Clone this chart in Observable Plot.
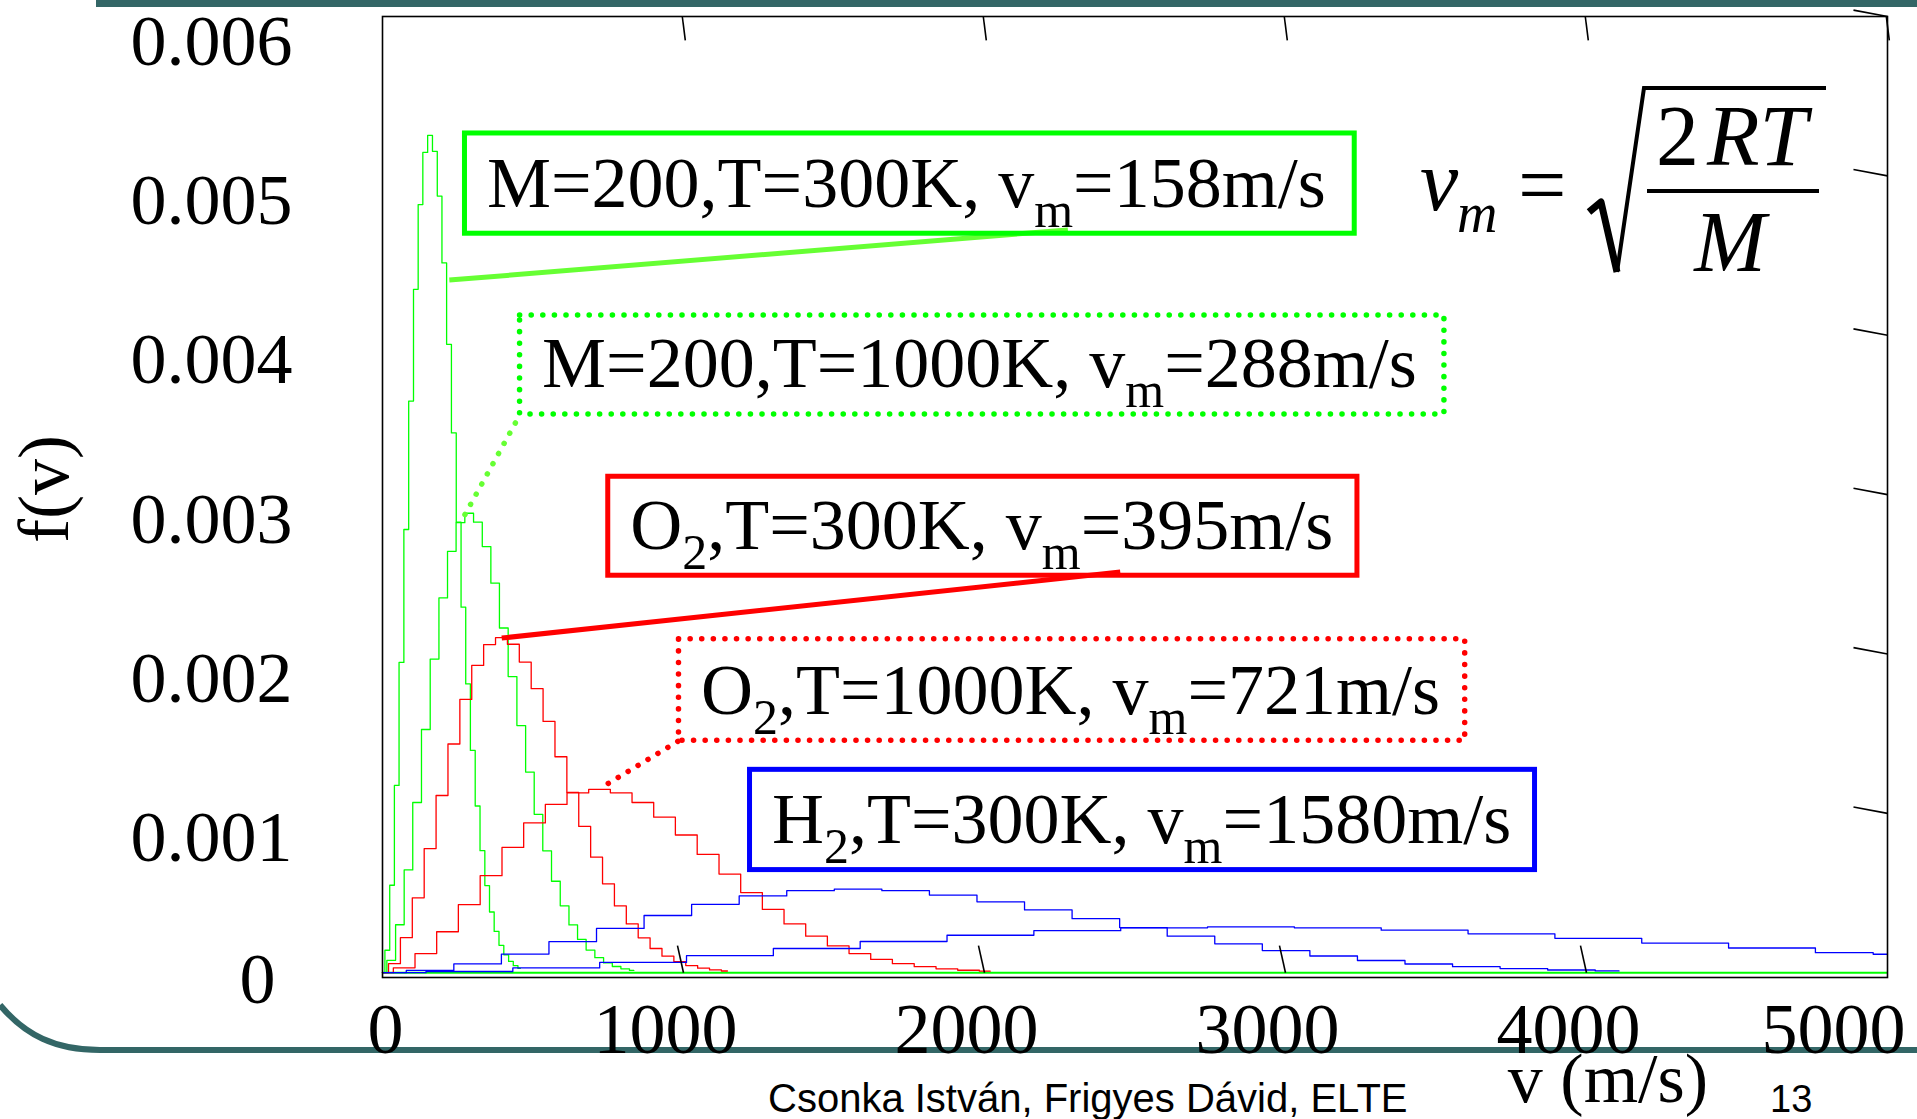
<!DOCTYPE html>
<html><head><meta charset="utf-8">
<script src="https://cdn.jsdelivr.net/npm/d3@7"></script>
<script src="https://cdn.jsdelivr.net/npm/@observablehq/plot@0.6"></script>
<style>
html,body{margin:0;padding:0;background:#fff;overflow:hidden}
#chart{position:relative;width:1917px;height:1119px}
#chart svg{position:absolute;left:0;top:0}
</style></head><body><div id="chart"></div>
<script>
// ---- series: speed v (m/s) and f(v) ----
const seriesNames = ["M=200, T=300K", "M=200, T=1000K", "O2, T=300K", "O2, T=1000K", "H2, T=300K", "H2, T=1000K"];
const seriesColors = ["#00ff00", "#00ff00", "#ff0000", "#ff0000", "#0000ff", "#0000ff"];

const vA = [0,16,32,47,63,79,95,111,126,142,158,174,190,205,221,237,253,269,284,300,316,332,348,363,379,395,411,427,442,458];
const fA = [0,0.000141,0.000549,0.001175,0.001947,0.002781,0.003587,0.004288,0.004820,0.005147,0.005254,0.005154,0.004873,0.004454,0.003943,0.003387,0.002827,0.002294,0.001812,0.001395,0.001046,0.000766,0.000547,0.000381,0.000259,0.000172,0.000112,0.000071,0.000044,0.000027];

const vB = [0,29,58,86,115,144,173,202,230,259,288,317,346,374,403,432,461,490,518,547,576,605,634,662,691,720,749,778,806,835];
const fB = [0,0.0000776,0.000301,0.000645,0.001068,0.001526,0.001968,0.002352,0.002644,0.002824,0.002883,0.002827,0.002674,0.002444,0.002163,0.001858,0.001551,0.001259,0.000994,0.000765,0.000574,0.000420,0.000300,0.000209,0.000142,0.0000945,0.0000614,0.0000390,0.0000242,0.0000147];

const vC = [0,40,79,119,158,198,237,277,316,356,395,435,474,514,553,593,632,672,711,751,790,830,869,909,948,988,1027,1067,1106,1146];
const fC = [0,0.0000566,0.000220,0.000470,0.000779,0.001112,0.001435,0.001715,0.001928,0.002059,0.002102,0.002061,0.001949,0.001782,0.001577,0.001355,0.001131,0.000918,0.000725,0.000558,0.000419,0.000306,0.000219,0.000152,0.000104,0.0000689,0.0000448,0.0000284,0.0000176,0.0000107];

const vD = [0,72,144,216,288,361,433,505,577,649,721,793,865,937,1009,1082,1154,1226,1298,1370,1442,1514,1586,1658,1730,1803,1875,1947,2019];
const fD = [0,0.0000310,0.000120,0.000257,0.000427,0.000609,0.000786,0.000940,0.001056,0.001128,0.001151,0.001129,0.001068,0.000976,0.000864,0.000742,0.000619,0.000503,0.000397,0.000306,0.000229,0.000168,0.000120,0.0000835,0.0000568,0.0000378,0.0000245,0.0000156,0.00000967];

const vE = [0,158,316,474,632,790,948,1106,1264,1422,1580,1738,1896,2054,2212,2370,2528,2686,2844,3002,3160,3318,3476,3634,3792,3950,4108];
const fE = [0,0.0000141,0.0000549,0.000117,0.000195,0.000278,0.000359,0.000429,0.000482,0.000515,0.000525,0.000515,0.000487,0.000445,0.000394,0.000339,0.000283,0.000229,0.000181,0.000139,0.000105,0.0000766,0.0000547,0.0000381,0.0000259,0.0000172,0.0000112];

const vF = [0,289,577,866,1154,1443,1731,2020,2308,2597,2885,3174,3462,3751,4039,4328,4616,4905,5000];
const fF = [0,0.00000774,0.0000301,0.0000643,0.000107,0.000152,0.000196,0.000235,0.000264,0.000282,0.000288,0.000282,0.000267,0.000244,0.000216,0.000186,0.000155,0.000126,0.000116];

// ---- tick labels ----
const xTicks = [0, 1000, 2000, 3000, 4000, 5000];
const xTickLabels = ["0", "1000", "2000", "3000", "4000", "5000"];
const yTicks = [0, 0.001, 0.002, 0.003, 0.004, 0.005, 0.006];
const yTickLabels = ["0", "0.001", "0.002", "0.003", "0.004", "0.005", "0.006"];

// ---- annotation texts ----
const boxLabels = ["M=200,T=300K, v_m=158m/s", "M=200,T=1000K, v_m=288m/s", "O_2,T=300K, v_m=395m/s", "O_2,T=1000K, v_m=721m/s", "H_2,T=300K, v_m=1580m/s"];
const boxSeries = [0, 1, 2, 3, 4];
const boxDotted = [false, true, false, true, false];

// ---- build tables ----
const vs = [vA, vB, vC, vD, vE, vF], fs = [fA, fB, fC, fD, fE, fF];
const curves = [];
vs.forEach((vv, i) => vv.forEach((v, j) => curves.push({series: seriesNames[i], v, f: fs[i][j]})));

// annotation layout (data coordinates)
const boxLayout = [
  {v1: 274, v2: 3230, f1: 0.004637, f2: 0.005266},
  {v1: 457, v2: 3528, f1: 0.003503, f2: 0.004124},
  {v1: 750, v2: 3239, f1: 0.002491, f2: 0.003112},
  {v1: 985, v2: 3597, f1: 0.001456, f2: 0.002093},
  {v1: 1221, v2: 3829, f1: 0.000644, f2: 0.001273}
];
const boxes = boxLayout.map((b, i) => ({...b, label: boxLabels[i], series: seriesNames[boxSeries[i]], dotted: boxDotted[i]}));
const connLayout = [
  {va: 222, fa: 0.004346, vb: 2277, fb: 0.004661},
  {va: 274, fa: 0.002875, vb: 457, fb: 0.003503},
  {va: 396, fa: 0.002100, vb: 2451, fb: 0.002514},
  {va: 750, fa: 0.001188, vb: 985, fb: 0.001456}
];
const conns = connLayout.map((c, i) => ({...c, series: seriesNames[i], dotted: boxDotted[i]}));
const connColor = ["#66ff33", "#66ff33", "#ff0000", "#ff0000"];

const serif = "'Liberation Serif', 'Times New Roman', Times, serif";
const sans = "'Liberation Sans', Arial, Helvetica, sans-serif";
const rightTicks = yTicks.slice(1);
const innerX = xTicks.slice(1, 5);

const chart = Plot.plot({
  width: 1917, height: 1119,
  marginLeft: 382, marginRight: 30, marginTop: 16, marginBottom: 142,
  style: {background: "transparent", fontFamily: serif, overflow: "visible"},
  x: {domain: [0, 5000], axis: null},
  y: {domain: [-0.00003, 0.006], axis: null},
  color: {domain: seriesNames, range: seriesColors},
  marks: [
    Plot.ruleY([0], {stroke: "#00ff00", strokeWidth: 2}),
    Plot.line(curves, {x: "v", y: "f", z: "series", stroke: "series", curve: "step", strokeWidth: 1.3}),
    Plot.frame({stroke: "black", strokeWidth: 1.6}),
    // inner ticks
    Plot.link(innerX, {x1: d => d, y1: 0, x2: d => d - 20, y2: 0.00017, stroke: "black", strokeWidth: 1.6}),
    Plot.link(xTicks.slice(1), {x1: d => d - 4, y1: 0.006, x2: d => d + 6, y2: 0.00585, stroke: "black", strokeWidth: 1.6}),
    Plot.link(rightTicks, {x1: 4887, y1: d => d + 0.00004, x2: 5000, y2: d => d, stroke: "black", strokeWidth: 1.6}),
    // connectors
    Plot.link(conns.filter(d => !d.dotted), {x1: "va", y1: "fa", x2: "vb", y2: "fb", stroke: (d) => connColor[seriesNames.indexOf(d.series)], strokeWidth: 5}),
    Plot.link(conns.filter(d => d.dotted), {x1: "va", y1: "fa", x2: "vb", y2: "fb", stroke: (d) => connColor[seriesNames.indexOf(d.series)], strokeWidth: 5.5, strokeDasharray: "0.1 11.5", strokeLinecap: "round"}),
    // boxes
    Plot.rect(boxes.filter(d => !d.dotted), {x1: "v1", x2: "v2", y1: "f1", y2: "f2", stroke: "series", fill: "none", strokeWidth: 5}),
    Plot.rect(boxes.filter(d => d.dotted), {x1: "v1", x2: "v2", y1: "f1", y2: "f2", stroke: "series", fill: "none", strokeWidth: 5.5, strokeDasharray: "0.1 11.5", strokeLinecap: "round"}),
    Plot.text(boxes, {x: "v1", y: "f1", text: "label", textAnchor: "start", lineAnchor: "bottom", dx: 22, dy: -27, fontSize: 72, fill: "black"}),
    // tick labels
    Plot.text(yTicks.slice(1), {frameAnchor: "left", y: d => d, text: (d, i) => yTickLabels[i + 1], textAnchor: "end", lineAnchor: "bottom", dx: -90, dy: 48, fontSize: 72, fill: "black"}),
    Plot.text(yTicks.slice(0, 1), {frameAnchor: "left", y: d => d, text: (d, i) => yTickLabels[i], textAnchor: "end", lineAnchor: "bottom", dx: -107, dy: 30, fontSize: 72, fill: "black"}),
    Plot.text(xTicks.slice(0, 1), {x: d => d, frameAnchor: "bottom", text: (d, i) => xTickLabels[i], textAnchor: "middle", lineAnchor: "bottom", dx: 3, dy: 75, fontSize: 72, fill: "black"}),
    Plot.text(xTicks.slice(1, 5), {x: d => d, frameAnchor: "bottom", text: (d, i) => xTickLabels[i + 1], textAnchor: "middle", lineAnchor: "bottom", dx: -18, dy: 75, fontSize: 72, fill: "black"}),
    Plot.text(xTicks.slice(5), {x: d => d, frameAnchor: "bottom", text: (d, i) => xTickLabels[i + 5], textAnchor: "end", lineAnchor: "bottom", dx: 18, dy: 75, fontSize: 72, fill: "black"})
  ]
});
document.getElementById("chart").appendChild(chart);

const svg = d3.select(chart);

// subscripts in annotation labels (marked with "_")
svg.selectAll("text").filter(function() { return boxLabels.includes(this.textContent); }).each(function() {
  const t = d3.select(this);
  const s = this.textContent;
  t.text(null).style("white-space", "pre");
  const parts = s.split(/_(.)/);
  let pending = 0;
  parts.forEach((p, k) => {
    if (!p) return;
    const sp = t.append("tspan").text(p);
    if (k % 2 === 1) {
      sp.attr("font-size", 50).attr("dy", 20);
      pending = -20;
    } else if (pending) {
      sp.attr("dy", pending);
      pending = 0;
    }
  });
});

// slide decorations (behind)
const deco = svg.insert("g", ":first-child");
deco.append("rect").attr("x", 96).attr("y", 0).attr("width", 1917 - 96).attr("height", 7).attr("fill", "#336666");
deco.append("path").attr("d", "M0,1005 C25,1035 55,1050 100,1050 H1917").attr("fill", "none").attr("stroke", "#336666").attr("stroke-width", 6);

// axis titles and footer
const ann = svg.append("g").attr("fill", "black").attr("text-anchor", "start");
ann.append("text").attr("x", 1608).attr("y", 1102).attr("text-anchor", "middle").attr("font-family", serif).attr("font-size", 70).text("v (m/s)");
ann.append("text").attr("transform", "translate(68,489) rotate(-90)").attr("text-anchor", "middle").attr("font-family", serif).attr("font-size", 72).text("f(v)");
ann.append("text").attr("x", 768).attr("y", 1112).attr("font-family", sans).attr("font-size", 40).text("Csonka István, Frigyes Dávid, ELTE");
ann.append("text").attr("x", 1770).attr("y", 1112).attr("font-family", sans).attr("font-size", 38).text("13");

// formula v_m = sqrt(2RT/M)
const fm = svg.append("g").attr("font-family", serif).attr("fill", "black").attr("text-anchor", "start");
fm.append("text").attr("x", 1420).attr("y", 210).attr("font-size", 86).attr("font-style", "italic").text("v");
fm.append("text").attr("x", 1457).attr("y", 232).attr("font-size", 56).attr("font-style", "italic").text("m");
fm.append("text").attr("x", 1518).attr("y", 214).attr("font-size", 86).text("=");
fm.append("path").attr("d", "M1589,212 L1601,202 L1617,272").attr("fill", "none").attr("stroke", "black").attr("stroke-width", 7).attr("stroke-linejoin", "round");
fm.append("path").attr("d", "M1617,272 L1644,88 L1826,88").attr("fill", "none").attr("stroke", "black").attr("stroke-width", 4);
fm.append("line").attr("x1", 1647).attr("x2", 1819).attr("y1", 191).attr("y2", 191).attr("stroke", "black").attr("stroke-width", 4);
const num = fm.append("text").attr("x", 1656).attr("y", 165).attr("font-size", 86);
num.append("tspan").text("2");
num.append("tspan").attr("dx", 8).attr("font-style", "italic").text("RT");
fm.append("text").attr("x", 1730).attr("y", 271).attr("text-anchor", "middle").attr("font-size", 86).attr("font-style", "italic").text("M");
</script></body></html>
